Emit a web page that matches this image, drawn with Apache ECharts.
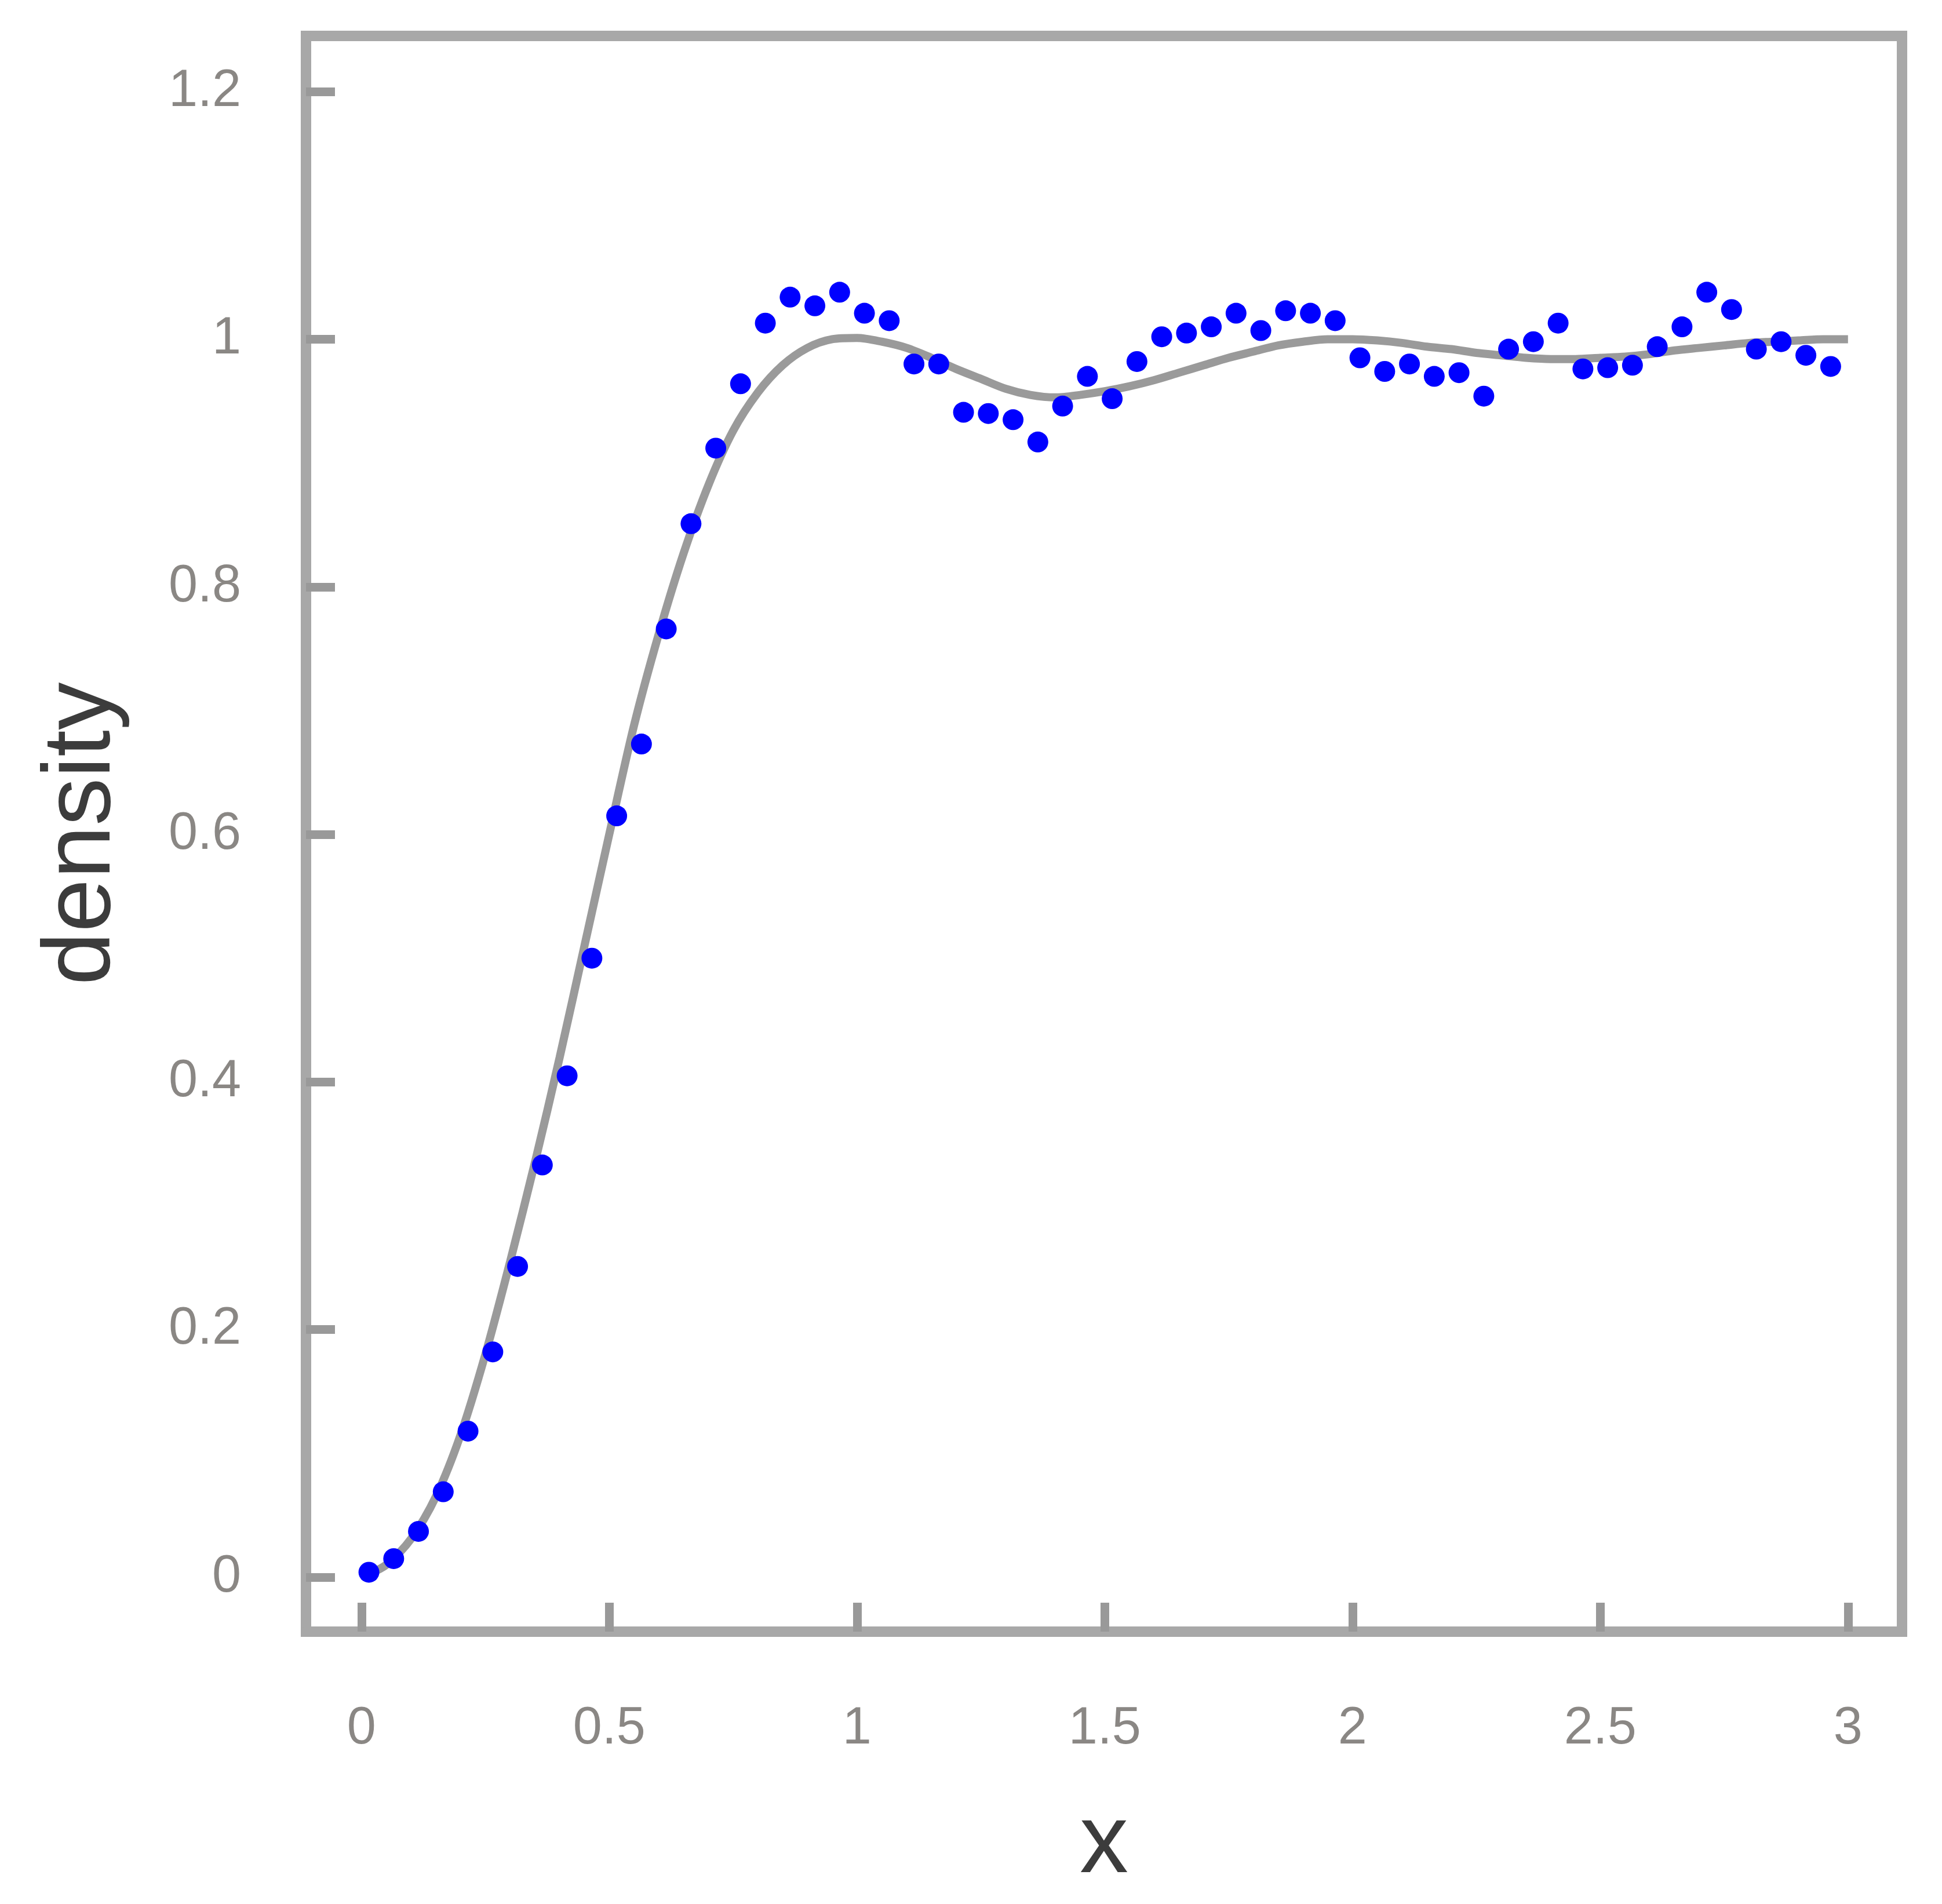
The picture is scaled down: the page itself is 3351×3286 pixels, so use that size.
<!DOCTYPE html>
<html><head><meta charset="utf-8">
<script src="https://cdn.jsdelivr.net/npm/echarts@6/dist/echarts.min.js"></script>
<style>html,body{margin:0;padding:0;background:#fff}#c{width:3351px;height:3286px}</style>
</head><body><div id="c"></div>
<script>
const sampleX = [0.015,0.065,0.115,0.165,0.215,0.265,0.315,0.365,0.415,0.465,
  0.515,0.565,0.615,0.665,0.715,0.765,0.815,0.865,0.915,0.965,
  1.015,1.065,1.115,1.165,1.215,1.265,1.315,1.365,1.415,1.465,
  1.515,1.565,1.615,1.665,1.715,1.765,1.815,1.865,1.915,1.965,
  2.015,2.065,2.115,2.165,2.215,2.265,2.315,2.365,2.415,2.465,
  2.515,2.565,2.615,2.665,2.715,2.765,2.815,2.865,2.915,2.965];
const sampleY = [0.004,0.015,0.037,0.069,0.118,0.182,0.251,0.333,0.405,0.500,
  0.615,0.673,0.766,0.851,0.912,0.964,1.013,1.034,1.027,1.038,
  1.021,1.015,0.980,0.980,0.941,0.940,0.935,0.917,0.946,0.970,
  0.952,0.982,1.002,1.005,1.010,1.021,1.007,1.023,1.021,1.015,
  0.985,0.974,0.980,0.970,0.973,0.954,0.992,0.998,1.013,0.976,
  0.977,0.979,0.994,1.010,1.038,1.024,0.992,0.998,0.987,0.978];
const curveX = [0.00,0.05,0.10,0.15,0.20,0.25,0.30,0.35,0.40,0.45,
  0.50,0.55,0.60,0.65,0.70,0.75,0.80,0.85,0.90,0.95,
  1.00,1.05,1.10,1.15,1.20,1.25,1.30,1.35,1.40,1.45,
  1.50,1.55,1.60,1.65,1.70,1.75,1.80,1.85,1.90,1.95,
  2.00,2.05,2.10,2.15,2.20,2.25,2.30,2.35,2.40,2.45,
  2.50,2.55,2.60,2.65,2.70,2.75,2.80,2.85,2.90,2.95,3.00];
const curveY = [0.000,0.010,0.031,0.065,0.115,0.180,0.255,0.335,0.420,0.510,
  0.600,0.688,0.762,0.827,0.882,0.926,0.957,0.979,0.993,1.000,
  1.001,0.998,0.993,0.985,0.976,0.968,0.960,0.955,0.953,0.955,
  0.958,0.962,0.967,0.973,0.979,0.985,0.990,0.995,0.998,1.000,
  1.000,0.999,0.997,0.994,0.992,0.989,0.987,0.985,0.984,0.984,
  0.985,0.986,0.988,0.991,0.993,0.995,0.997,0.998,0.999,1.000,1.000];
const xTicks = [0,0.5,1,1.5,2,2.5,3];
const yTicks = [0,0.2,0.4,0.6,0.8,1,1.2];

const chart = echarts.init(document.getElementById('c'), null, {renderer:'canvas'});
const frame = '#a8a8a8';
const tickStyle = {show:true, inside:true, length:50, lineStyle:{color:'#999999', width:15}};
const labelStyle = {color:'#8a8784', fontSize:90, fontFamily:'Liberation Sans'};
chart.setOption({
  backgroundColor:'#ffffff',
  animation:false,
  grid:{left:528, right:69, top:62, bottom:470, show:true, borderColor:frame, borderWidth:18, backgroundColor:'#ffffff'},
  xAxis:{type:'value', min:-0.112, max:3.109,
    name:'x', nameLocation:'middle', nameGap:285,
    nameTextStyle:{fontSize:168, color:'#3c3c3c', fontFamily:'Liberation Sans'},
    axisLine:{show:true, onZero:false, lineStyle:{color:frame, width:18}},
    axisTick:Object.assign({customValues:xTicks}, tickStyle),
    axisLabel:Object.assign({customValues:xTicks, margin:123, formatter:v=>String(v)}, labelStyle),
    splitLine:{show:false}},
  yAxis:{type:'value', min:-0.044, max:1.245,
    name:'density', nameLocation:'middle', nameGap:302,
    nameTextStyle:{fontSize:165, color:'#3c3c3c', fontFamily:'Liberation Sans'},
    axisLine:{show:true, onZero:false, lineStyle:{color:frame, width:18}},
    axisTick:Object.assign({customValues:yTicks}, tickStyle),
    axisLabel:Object.assign({customValues:yTicks, margin:112, formatter:v=>String(v)}, labelStyle),
    splitLine:{show:false}},
  series:[
    {type:'line', data:curveX.map((x,i)=>[x,curveY[i]]), smooth:0.3, showSymbol:false,
     lineStyle:{color:'#9a9a9a', width:14}, z:2},
    {type:'scatter', data:sampleX.map((x,i)=>[x,sampleY[i]]), symbol:'circle', symbolSize:36,
     itemStyle:{color:'#0000ff', opacity:1}, z:3}
  ]
});
</script></body></html>
